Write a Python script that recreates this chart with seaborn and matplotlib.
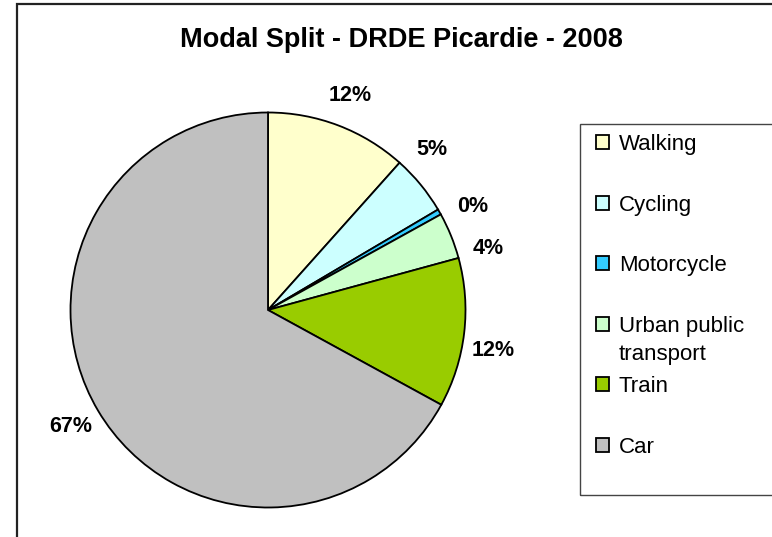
import numpy as np
import matplotlib
matplotlib.use("Agg")
import matplotlib.pyplot as plt
import matplotlib.patches as mpatches
import seaborn as sns

# data (share of trips, %)
modes = ["Walking", "Cycling", "Motorcycle", "Urban public", "Train", "Car"]
shares = [11.6, 4.9, 0.45, 3.8, 12.2, 67.0]
colors = ["#FFFFCC", "#CCFFFF", "#33CCFF", "#CCFFCC", "#99CC00", "#C0C0C0"]
title = "Modal Split - DRDE Picardie - 2008"

# small angular nudges (deg) so the outside labels don't collide, like Excel does
label_shift = [0, 5, -3, -6.5, -3.5, 0]

sns.set_theme(style="white")
plt.rcParams["font.family"] = ["Liberation Sans", "DejaVu Sans"]
plt.rcParams["text.color"] = "black"

W, H = 772, 537
fig = plt.figure(figsize=(W / 100, H / 100), dpi=100)
fig.patch.set_facecolor("white")

# pie axes: centre at (268, 310) px, radius ~197 px
cx, cy, R = 268, 310, 197.5
xl, yl = 1.3, 1.1
ax = fig.add_axes([(cx - xl * R) / W, (H - cy - yl * R) / H, 2 * xl * R / W, 2 * yl * R / H])
wedges, texts, autotexts = ax.pie(
    shares, colors=colors, startangle=90, counterclock=False,
    autopct="%.0f%%", pctdistance=1.16,
    wedgeprops=dict(edgecolor="black", linewidth=1.3),
    textprops=dict(fontsize=15.5, fontweight="bold", color="black"),
)
ax.set_xlim(-xl, xl)
ax.set_ylim(-yl, yl)
ax.set_aspect("equal")
ax.axis("off")

for w, t, d in zip(wedges, autotexts, label_shift):
    ang = np.deg2rad((w.theta1 + w.theta2) / 2 + d)
    t.set_position((1.16 * np.cos(ang), 1.16 * np.sin(ang)))

fig.text(401 / W, 1 - 40 / H, title, ha="center", va="center",
         fontsize=19.5, fontweight="bold", color="black")

# outer chart border (only left and top visible)
fig.patches.append(mpatches.Rectangle((17 / W, -0.2), 1.2, 1.2 - 3.5 / H,
                                      transform=fig.transFigure, fill=False,
                                      edgecolor="#222222", linewidth=1.6))

# legend box
fig.patches.append(mpatches.Rectangle((580 / W, 1 - 495 / H), 0.5, (495 - 124) / H,
                                      transform=fig.transFigure, fill=False,
                                      edgecolor="#444444", linewidth=1.0))

handles = [mpatches.Patch(facecolor=c, edgecolor="black", linewidth=1.3) for c in colors]
leg = fig.legend(handles, modes, loc="upper left",
                 bbox_to_anchor=(596 / W, 1 - 134 / H), bbox_transform=fig.transFigure,
                 frameon=False, fontsize=16, borderpad=0, borderaxespad=0,
                 handlelength=0.58, handleheight=0.58, handletextpad=0.45,
                 labelspacing=1.78)
for t in leg.get_texts():
    t.set_color("black")

fig.canvas.draw()
bb = leg.get_texts()[3].get_window_extent().transformed(fig.transFigure.inverted())
fig.text(bb.x0, bb.y0 - 28 / H, "transport", fontsize=16, ha="left", va="bottom",
         color="black")

fig.savefig("out.png", dpi=100)
